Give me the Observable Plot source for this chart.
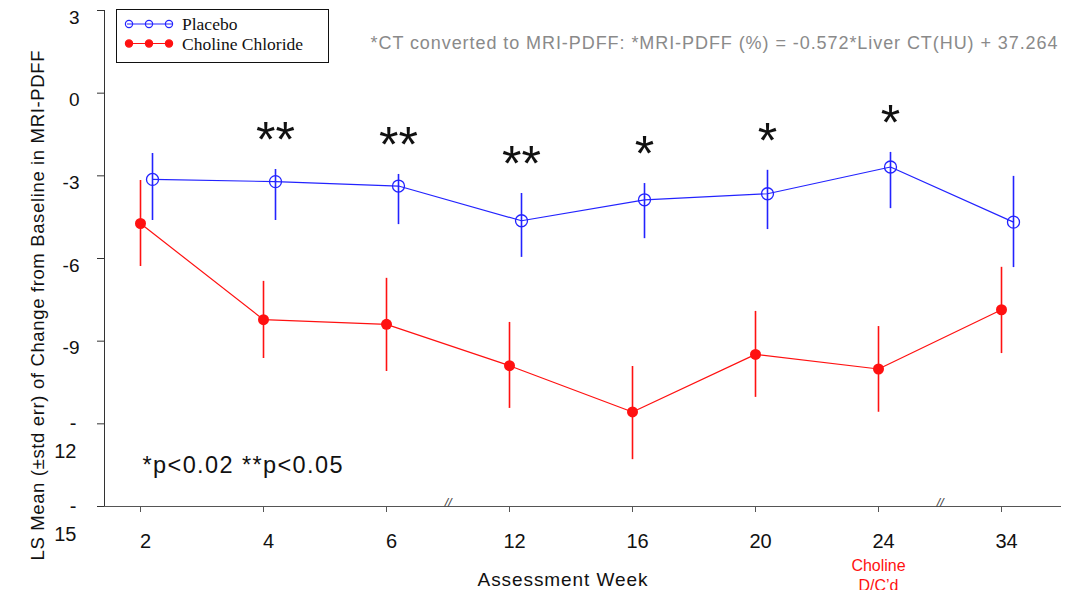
<!DOCTYPE html>
<html><head><meta charset="utf-8">
<script src="https://cdn.jsdelivr.net/npm/d3@7"></script>
<script src="https://cdn.jsdelivr.net/npm/@observablehq/plot@0.6"></script>
<style>
body{margin:0;background:#fff;}
#wrap{position:relative;width:1069px;height:590px;overflow:hidden;}
#legend{position:absolute;left:116px;top:9px;width:213px;height:54px;border:1px solid #111;background:#fff;box-sizing:border-box;}
</style></head><body>
<div id="wrap"><div id="chart"></div><div id="legend"></div></div>
<script>
// ---- data ----
const weeks = ["2","4","6","12","16","20","24","34"];
const placeboMean = [-3.13,-3.21,-3.37,-4.63,-3.87,-3.65,-2.68,-4.68];
const placeboHi   = [-2.19,-2.77,-2.95,-3.64,-3.28,-2.80,-2.15,-3.02];
const placeboLo   = [-4.62,-4.62,-4.77,-5.96,-5.28,-4.95,-4.19,-6.33];
const cholineMean = [-4.73,-8.22,-8.39,-9.89,-11.57,-9.48,-10.01,-7.86];
const cholineHi   = [-3.17,-6.83,-6.72,-8.32,-9.92,-7.92,-8.47,-6.32];
const cholineLo   = [-6.29,-9.63,-10.10,-11.44,-13.30,-11.04,-11.58,-9.45];
const significance = ["","**","**","**","*","*","*",""];
const yTicks = [3,0,-3,-6,-9,-12,-15];
const ySplitTicks = [-12,-15];
const axisBreaksAfter = ["6","24"];
const seriesNames = ["Placebo","Choline Chloride"];
const seriesColors = ["#2323ff","#ff1111"];
const yLabel = "LS Mean (±std err) of Change from Baseline in MRI-PDFF";
const xLabel = "Assessment Week";
const noteText = "*CT converted to MRI-PDFF: *MRI-PDFF (%) = -0.572*Liver CT(HU) + 37.264";
const pText = "*p<0.02 **p<0.05";
const dcWeek = "24";
const dcText = "Choline\nD/C’d";

// ---- tables ----
const placebo = weeks.map((w,i)=>({week:w, mean:placeboMean[i], lo:placeboLo[i], hi:placeboHi[i], sig:significance[i]}));
const choline = weeks.map((w,i)=>({week:w, mean:cholineMean[i], lo:cholineLo[i], hi:cholineHi[i]}));

// ---- layout ----
const W=1069, H=590, mL=104, mR=9, mT=10, mB=84, pad=0.38, align=0.383;
const step = (W-mL-mR)/(weeks.length-1+2*pad);
const off = 12;
const blue = seriesColors[0], red = seriesColors[1];

const chart = Plot.plot({
  width:W, height:H, marginLeft:mL, marginRight:mR, marginTop:mT, marginBottom:mB,
  style:{fontFamily:"'Liberation Sans', Arial, sans-serif", background:"#fff", overflow:"visible", color:"#111"},
  x:{type:"point", domain:weeks, padding:pad, align},
  y:{domain:[-15,3]},
  marks:[
    Plot.frame({anchor:"left", stroke:"#333"}),
    Plot.frame({anchor:"bottom", stroke:"#555"}),
    Plot.axisY({ticks:yTicks, tickSize:7, fill:"none", stroke:"#333", label:null}),
    Plot.axisY({ticks:yTicks.filter(t=>!ySplitTicks.includes(t)), tickFormat:d=>String(d), tickSize:0, tickPadding:25, dy:7, fontSize:19, label:null}),
    Plot.text(ySplitTicks, {y:d=>d, frameAnchor:"left", text:d=>"-\n"+Math.abs(d), textAnchor:"end", lineAnchor:"top", dx:-28, dy:-13, lineHeight:1.38, fontSize:20, fill:"#111"}),
    Plot.axisX({tickSize:6, fill:"none", stroke:"#555", label:null}),
    Plot.axisX({tickSize:0, tickPadding:27, dx:5, fontSize:20, label:null}),
    Plot.text(axisBreaksAfter, {x:d=>d, frameAnchor:"bottom", dx:step/2, text:()=>"//", fontSize:13, fontStyle:"italic", fill:"#444"}),
    // choline
    Plot.ruleX(choline, {x:"week", y1:"lo", y2:"hi", stroke:red, strokeWidth:1.6}),
    Plot.line(choline, {x:"week", y:"mean", stroke:red, strokeWidth:1.2}),
    Plot.dot(choline, {x:"week", y:"mean", r:5.5, fill:red}),
    // placebo
    Plot.ruleX(placebo, {x:"week", y1:"lo", y2:"hi", stroke:blue, strokeWidth:1.6, dx:off}),
    Plot.line(placebo, {x:"week", y:"mean", stroke:blue, strokeWidth:1.2, dx:off}),
    Plot.dot(placebo, {x:"week", y:"mean", r:6, stroke:blue, fill:"none", strokeWidth:1.3, dx:off}),
    Plot.text(placebo.filter(d=>d.sig), {x:"week", y:"hi", text:"sig", dx:off, dy:-28.5, fontSize:50, fill:"#111"}),
    // annotations
    Plot.text([noteText], {frameAnchor:"top-right", textAnchor:"end", dx:-3, dy:26, fontSize:18, fill:"#8a8a8a", className:"note-txt"}),
    Plot.text([pText], {frameAnchor:"bottom-left", textAnchor:"start", dx:38, dy:-34, fontSize:23.5, fill:"#111", className:"p-txt"}),
    Plot.text([yLabel], {frameAnchor:"left", textAnchor:"middle", rotate:-90, dx:-66, dy:47, fontSize:18.5, fill:"#111", className:"ylab-txt"}),
    Plot.text([xLabel], {frameAnchor:"bottom", textAnchor:"middle", dx:-20, dy:79, fontSize:19, fill:"#111", className:"xlab-txt"}),
    Plot.text([dcWeek], {x:d=>d, frameAnchor:"bottom", text:()=>dcText, fill:red, fontSize:16, lineAnchor:"top", dy:50, lineHeight:1.25})
  ]
});
document.getElementById("chart").appendChild(chart);

// stretch a few annotation texts to the reference widths
const widths = {"note-txt":687, "p-txt":200, "ylab-txt":510, "xlab-txt":170};
for (const [cls, len] of Object.entries(widths)) {
  d3.select(chart).selectAll(`g.${cls} text`).attr("textLength", len).attr("lengthAdjust", "spacing");
}

// ---- legend ----
const lg = d3.select("#legend").append("svg").attr("width",211).attr("height",52)
  .style("position","absolute").style("left","0").style("top","0");
seriesNames.forEach((name,i)=>{
  const y = 14 + i*19.5;
  const g = lg.append("g");
  g.append("line").attr("x1",10).attr("x2",55).attr("y1",y).attr("y2",y).attr("stroke",seriesColors[i]).attr("stroke-width",1.2);
  [12,32,52].forEach(cx=>{
    g.append("circle").attr("cx",cx).attr("cy",y).attr("r",3.6)
      .attr("fill", i===0 ? "none" : seriesColors[i]).attr("stroke",seriesColors[i]).attr("stroke-width",1.2);
  });
  g.append("text").attr("x",65).attr("y",y).attr("dy","0.35em")
    .attr("font-family","'Liberation Serif', 'Times New Roman', serif").attr("font-size",17.5).attr("fill","#111").text(name);
});
</script>
</body></html>
